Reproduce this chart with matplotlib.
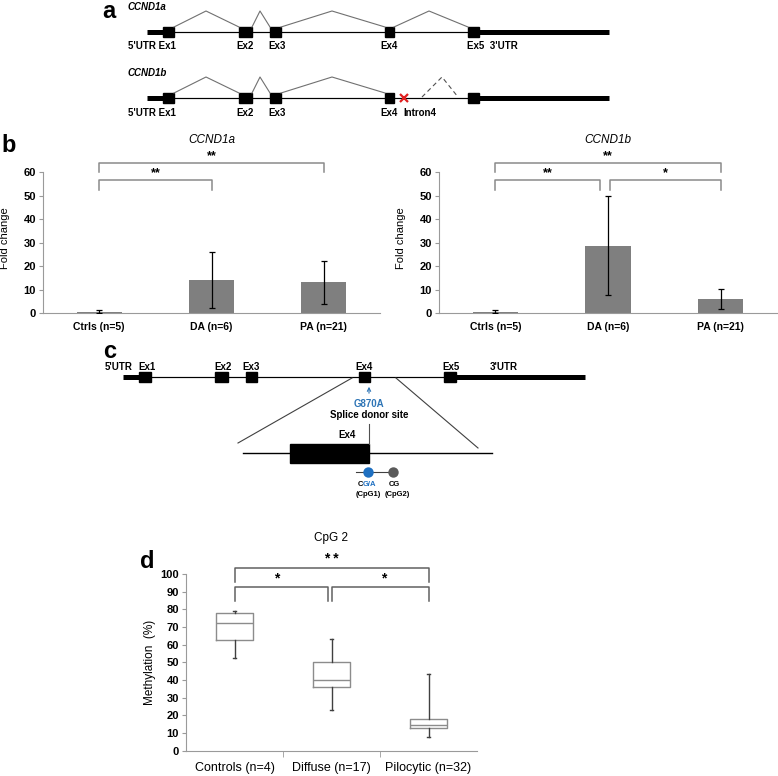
import matplotlib
matplotlib.use("Agg")
import matplotlib.pyplot as plt
import numpy as np

plt.rcParams["font.family"] = ["Liberation Sans", "DejaVu Sans"]

# ---- data ----
bar_groups = ["Ctrls (n=5)", "DA (n=6)", "PA (n=21)"]
ccnd1a_mean = [0.7, 14.2, 13.2]
ccnd1a_err = [0.6, 12.0, 9.1]
ccnd1b_mean = [0.7, 28.8, 6.2]
ccnd1b_err = [0.6, 21.2, 4.2]

box_groups = ["Controls (n=4)", "Diffuse (n=17)", "Pilocytic (n=32)"]
box_whislo = [52.3, 23.0, 7.5]
box_q1 = [62.6, 35.8, 12.6]
box_med = [72.0, 39.8, 14.5]
box_q3 = [77.7, 50.4, 18.1]
box_whishi = [78.9, 63.2, 43.6]

# ---- figure, pixel helpers ----
W, H = 778, 776
fig = plt.figure(figsize=(W / 100, H / 100), dpi=100)
PX = 0.72  # points per pixel

ax0 = fig.add_axes([0, 0, 1, 1])
ax0.set_xlim(0, W)
ax0.set_ylim(H, 0)
ax0.axis("off")


def px_axes(left, top, right, bottom):
    ax = fig.add_axes([left / W, 1 - bottom / H, (right - left) / W, (bottom - top) / H])
    ax.set_facecolor("none")
    return ax


def label(x, y, s, **kw):
    kw.setdefault("fontsize", 7)
    kw.setdefault("fontweight", "bold")
    kw.setdefault("va", "center")
    kw.setdefault("ha", "center")
    ax0.text(x, y, s, **kw)


# ---- panel letters (baseline placed) ----
for s, x, y in [("a", 109, 18), ("b", 9, 152), ("c", 110, 358), ("d", 147, 568)]:
    label(x, y, s, fontsize=17, va="baseline")

# ---- panel a: transcript schematics ----
exons_a = [(163, 174), (239, 252), (270, 281), (385, 394), (468, 479)]
arcs_a = [(174, 206, 239), (252, 260, 270), (281, 332, 385), (394, 429, 468)]


def transcript(y, name, dashed_last=False):
    ax0.plot([147, 163], [y, y], color="black", lw=5 * PX, solid_capstyle="butt")
    ax0.plot([163, 468], [y, y], color="black", lw=1.2 * PX)
    ax0.plot([479, 609], [y, y], color="black", lw=5 * PX, solid_capstyle="butt")
    for x0, x1 in exons_a:
        ax0.add_patch(plt.Rectangle((x0, y - 5), x1 - x0, 10, color="black"))
    for i, (xa, xp, xb) in enumerate(arcs_a):
        if dashed_last and i == 3:
            continue
        ax0.plot([xa, xp, xb], [y - 5, y - 21, y - 5], color="#707070", lw=0.8)
    label(128, y - 25, name, ha="left", style="italic")


transcript(32, "CCND1a")
label(128, 46, "5'UTR Ex1", ha="left")
for s, x in [("Ex2", 245), ("Ex3", 277), ("Ex4", 389)]:
    label(x, 46, s)
label(467, 46, "Ex5  3'UTR", ha="left")

transcript(98, "CCND1b", dashed_last=True)
ax0.plot([422, 442, 458], [97, 77, 97], color="#505050", lw=0.8, ls=(0, (4, 3)))
ax0.plot([404], [98], marker="x", color="#e02020", ms=6, mew=1.6)
label(128, 113, "5'UTR Ex1", ha="left")
for s, x in [("Ex2", 245), ("Ex3", 277), ("Ex4", 389)]:
    label(x, 113, s)
label(403, 113, "Intron4", ha="left")


# ---- panel b: bar charts ----
def bar_panel(left, right, title, mean, err, brackets):
    ax = px_axes(left, 172.3, right, 313.3)
    x = np.arange(len(bar_groups))
    ax.bar(x, mean, width=0.4, color="#7f7f7f", zorder=2)
    ax.errorbar(x, mean, yerr=err, fmt="none", ecolor="black", elinewidth=0.9,
                capsize=2, capthick=0.9, zorder=3)
    ax.set_xlim(-0.5, 2.5)
    ax.set_ylim(0, 60)
    ax.set_yticks(np.arange(0, 61, 10))
    ax.set_xticks(x)
    ax.set_xticklabels(bar_groups, fontweight="bold")
    for lab in ax.get_yticklabels():
        lab.set_fontweight("bold")
    for sp in ["top", "right"]:
        ax.spines[sp].set_visible(False)
    for sp in ["left", "bottom"]:
        ax.spines[sp].set_color("#9a9a9a")
        ax.spines[sp].set_linewidth(0.8)
    ax.tick_params(axis="x", length=0, pad=6, labelsize=7.5)
    ax.tick_params(axis="y", length=3, color="#9a9a9a", labelsize=8, pad=2)
    ax.set_ylabel("Fold change", fontsize=8)
    ax.yaxis.set_label_coords(-0.098, 0.53)
    ax.text(0.5, 1.229, title, transform=ax.transAxes, ha="center", va="center",
            fontsize=8.5, style="italic")
    for xa, xb, ytop, ylow, star in brackets:
        ax.plot([xa, xa, xb, xb], [ylow, ytop, ytop, ylow], color="#8a8a8a",
                lw=1.1, clip_on=False)
        ax.text((xa + xb) / 2, ytop + 0.3, star, ha="center", va="bottom",
                fontsize=9, fontweight="bold", clip_on=False)
    return ax


bar_panel(43, 380, "CCND1a", ccnd1a_mean, ccnd1a_err,
          [(0, 2, 63.8, 60, "**"), (0, 1, 56.7, 52.5, "**")])
bar_panel(439, 777, "CCND1b", ccnd1b_mean, ccnd1b_err,
          [(0, 2, 63.8, 60, "**"), (0, 0.93, 56.7, 52.5, "**"),
           (1.02, 2, 56.7, 52.5, "*")])

# ---- panel c: gene structure with zoom ----
yc = 377
exons_c = [(139, 151), (215, 228), (246, 257), (359, 370), (444, 456)]
ax0.plot([123, 139], [yc, yc], color="black", lw=5 * PX, solid_capstyle="butt")
ax0.plot([139, 444], [yc, yc], color="black", lw=1.2 * PX)
ax0.plot([456, 585], [yc, yc], color="black", lw=5 * PX, solid_capstyle="butt")
for x0, x1 in exons_c:
    ax0.add_patch(plt.Rectangle((x0, yc - 5), x1 - x0, 10, color="black"))
label(105, 367, "5'UTR", ha="left")
for s, x in [("Ex1", 147), ("Ex2", 223), ("Ex3", 251), ("Ex4", 364), ("Ex5", 451)]:
    label(x, 367, s)
label(490, 367, "3'UTR", ha="left")

ax0.annotate("", xy=(369, 384), xytext=(369, 396),
             arrowprops=dict(arrowstyle="->", color="#2e75b6", lw=0.8,
                             mutation_scale=6))
label(369, 404, "G870A", color="#2e75b6")
label(369, 415, "Splice donor site")

ax0.plot([352, 238], [378, 443], color="#404040", lw=0.8)
ax0.plot([396, 478], [378, 448], color="#404040", lw=0.8)
ax0.plot([243, 492], [453, 453], color="black", lw=1.0)
ax0.add_patch(plt.Rectangle((290, 444), 79, 19, color="black"))
label(347, 435, "Ex4")
ax0.plot([369, 369], [424, 444], color="#505050", lw=0.8)

ax0.plot([356, 393], [472, 472], color="#404040", lw=0.8)
ax0.plot([368], [472], marker="o", color="#1f70c1", ms=7.5, mec="none")
ax0.plot([393], [472], marker="o", color="#5a5a5a", ms=7.5, mec="none")
label(363, 484, "C", ha="right", fontsize=5.5)
label(363, 484, "G/A", ha="left", color="#1f70c1", fontsize=5.5)
label(394, 484, "CG", fontsize=5.5)
label(368, 494, "(CpG1)", fontsize=5.5)
label(397, 494, "(CpG2)", fontsize=5.5)

# ---- panel d: box plot ----
axd = px_axes(186, 574, 477, 750.7)
stats = []
for i in range(len(box_groups)):
    stats.append(dict(med=box_med[i], q1=box_q1[i], q3=box_q3[i],
                      whislo=box_whislo[i], whishi=box_whishi[i], fliers=[]))
axd.bxp(stats, positions=range(len(box_groups)), widths=0.39, showfliers=False,
        capwidths=0.04,
        boxprops=dict(color="#8c8c8c", lw=1.0),
        medianprops=dict(color="#8c8c8c", lw=1.0),
        whiskerprops=dict(color="#404040", lw=1.0),
        capprops=dict(color="#404040", lw=1.0))
axd.set_xlim(-0.5, 2.5)
axd.set_ylim(0, 100)
axd.set_yticks(np.arange(0, 101, 10))
axd.set_xticks(range(len(box_groups)))
axd.set_xticklabels(box_groups)
for lab in axd.get_yticklabels():
    lab.set_fontweight("bold")
axd.set_xticks([0.5, 1.5], minor=True)
for sp in ["top", "right"]:
    axd.spines[sp].set_visible(False)
for sp in ["left", "bottom"]:
    axd.spines[sp].set_color("#9a9a9a")
    axd.spines[sp].set_linewidth(0.8)
axd.tick_params(axis="x", which="major", length=0, pad=8, labelsize=9)
axd.tick_params(axis="x", which="minor", length=4, color="#9a9a9a")
axd.tick_params(axis="y", length=3, color="#9a9a9a", labelsize=8, pad=2)
axd.set_ylabel("Methylation  (%)", fontsize=8.5)
axd.yaxis.set_label_coords(-0.103, 0.5)
axd.text(0.5, 1.204, "CpG 2", transform=axd.transAxes, ha="center", va="center",
         fontsize=8.5)
# bracket: x from, x to, top, drop, star text, star x, star y
d_brackets = [(0, 2, 103.4, 95.5, "* *", 1.0, 104.5),
              (0, 0.96, 92.6, 85, "*", 0.44, 93.5),
              (1.0, 2, 92.6, 85, "*", 1.54, 93.5)]
for xa, xb, ytop, ylow, star, xs, ys in d_brackets:
    axd.plot([xa, xa, xb, xb], [ylow, ytop, ytop, ylow], color="#606060",
             lw=1.1, clip_on=False)
    axd.text(xs, ys, star, ha="center", va="bottom", fontsize=10,
             fontweight="bold", clip_on=False)

fig.savefig("out.png", dpi=100)
